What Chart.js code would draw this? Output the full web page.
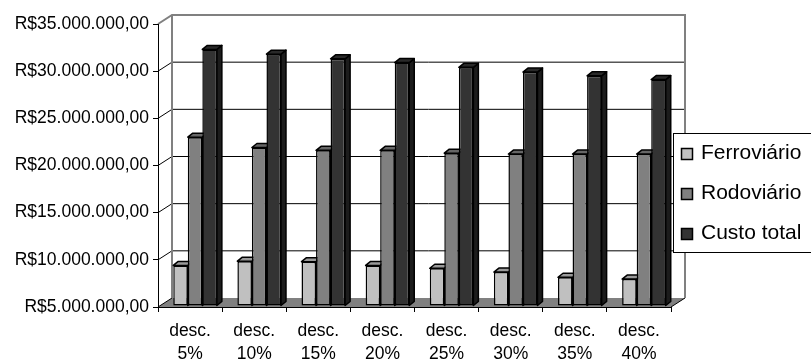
<!DOCTYPE html>
<html>
<head>
<meta charset="utf-8">
<script src="https://cdn.jsdelivr.net/npm/chart.js@4"></script>
<style>
  html, body { margin: 0; padding: 0; background: #fff; }
  canvas { display: block; }
</style>
</head>
<body>
<canvas id="chart" width="811" height="362"></canvas>
<script>
// Custo de transporte por nível de desconto (R$)
const categories = ['desc. 5%', 'desc. 10%', 'desc. 15%', 'desc. 20%', 'desc. 25%', 'desc. 30%', 'desc. 35%', 'desc. 40%'];
const ferroviario = [9300000, 9750000, 9700000, 9300000, 9000000, 8600000, 8050000, 7850000];
const rodoviario = [22900000, 21800000, 21500000, 21500000, 21200000, 21100000, 21100000, 21100000];
const custoTotal = [32200000, 31700000, 31200000, 30800000, 30300000, 29800000, 29400000, 29000000];
const valueTicks = [5000000, 10000000, 15000000, 20000000, 25000000, 30000000, 35000000];

const FONT = "'Liberation Sans', Arial, sans-serif";

// Depth of the walls (front plane to back plane) and of each column
const WALL_DX = 14, WALL_DY = -9;
const BAR_SHIFT_X = 5, BAR_SHIFT_Y = -1;
const BAR_DX = 5, BAR_DY = -4;

function brl(v) {
  const s = Math.round(v).toString().replace(/\B(?=(\d{3})+(?!\d))/g, '.');
  return 'R$' + s + ',00';
}

function shade(hex, f) {
  const n = parseInt(hex.slice(1), 16);
  const r = Math.round(((n >> 16) & 255) * f);
  const g = Math.round(((n >> 8) & 255) * f);
  const b = Math.round((n & 255) * f);
  return 'rgb(' + r + ',' + g + ',' + b + ')';
}

// Walls, floor and gridlines behind the columns
const walls = {
  id: 'walls',
  beforeDraw(chart) {
    const { ctx, chartArea: ca } = chart;
    const ys = chart.scales.y;
    ctx.save();
    ctx.fillStyle = '#fff';
    ctx.fillRect(0, 0, chart.width, chart.height);

    const yb = ys.getPixelForValue(ys.min);
    const yt = ys.getPixelForValue(ys.max);

    // floor
    ctx.fillStyle = '#808080';
    ctx.beginPath();
    ctx.moveTo(ca.left, yb);
    ctx.lineTo(ca.right, yb);
    ctx.lineTo(ca.right + WALL_DX, yb + WALL_DY);
    ctx.lineTo(ca.left + WALL_DX, yb + WALL_DY);
    ctx.closePath();
    ctx.fill();

    // gridlines across the side wall and back wall
    ctx.lineWidth = 1;
    ctx.strokeStyle = '#000';
    ys.ticks.forEach(t => {
      if (t.value === ys.max) return;
      const py = ys.getPixelForValue(t.value);
      ctx.beginPath();
      ctx.moveTo(ca.left, py);
      ctx.lineTo(ca.left + WALL_DX, py + WALL_DY);
      if (t.value !== ys.min) ctx.lineTo(ca.right + WALL_DX, py + WALL_DY);
      ctx.stroke();
    });
    // floor right edge
    ctx.beginPath();
    ctx.moveTo(ca.right, yb);
    ctx.lineTo(ca.right + WALL_DX, yb + WALL_DY);
    ctx.stroke();

    // wall outline
    ctx.strokeStyle = '#808080';
    ctx.lineWidth = 2;
    ctx.beginPath();
    ctx.moveTo(ca.left, yt);
    ctx.lineTo(ca.left + WALL_DX, yt + WALL_DY);
    ctx.lineTo(ca.right + WALL_DX, yt + WALL_DY);
    ctx.lineTo(ca.right + WALL_DX, yb + WALL_DY);
    ctx.moveTo(ca.left + WALL_DX, yt + WALL_DY);
    ctx.lineTo(ca.left + WALL_DX, yb + WALL_DY);
    ctx.stroke();
    ctx.restore();
  }
};

// Top and side faces of each column; the front faces are Chart.js bars
const columns3d = {
  id: 'columns3d',
  beforeDatasetsDraw(chart) {
    const ctx = chart.ctx;
    ctx.save();
    ctx.translate(BAR_SHIFT_X, BAR_SHIFT_Y);
    ctx.lineWidth = 1.5;
    ctx.strokeStyle = '#000';
    ctx.lineJoin = 'round';
    chart.data.datasets.forEach((ds, i) => {
      const meta = chart.getDatasetMeta(i);
      meta.data.forEach(bar => {
        const { x, y, base, width } = bar.getProps(['x', 'y', 'base', 'width'], true);
        const l = x - width / 2, r = x + width / 2;
        // side
        ctx.fillStyle = shade(ds.backgroundColor, 0.55);
        ctx.beginPath();
        ctx.moveTo(r, y);
        ctx.lineTo(r + BAR_DX, y + BAR_DY);
        ctx.lineTo(r + BAR_DX, base + BAR_DY);
        ctx.lineTo(r, base);
        ctx.closePath();
        ctx.fill();
        ctx.stroke();
        // top
        ctx.fillStyle = shade(ds.backgroundColor, 0.8);
        ctx.beginPath();
        ctx.moveTo(l, y);
        ctx.lineTo(r, y);
        ctx.lineTo(r + BAR_DX, y + BAR_DY);
        ctx.lineTo(l + BAR_DX, y + BAR_DY);
        ctx.closePath();
        ctx.fill();
        ctx.stroke();
      });
    });
  },
  afterDatasetsDraw(chart) {
    chart.ctx.restore();
  }
};

// Boxed legend at the right
const boxLegend = {
  id: 'boxLegend',
  afterDraw(chart) {
    const ctx = chart.ctx;
    const L = { x: 673.5, y: 133.5, w: 150, h: 119, row0: 153, gap: 40, box: 11, boxX: 681.5, textX: 701 };
    ctx.save();
    ctx.fillStyle = '#fff';
    ctx.fillRect(L.x, L.y, L.w, L.h);
    ctx.strokeStyle = '#000';
    ctx.lineWidth = 1;
    ctx.strokeRect(L.x, L.y, L.w, L.h);
    ctx.font = '21px ' + FONT;
    ctx.textBaseline = 'middle';
    ctx.textAlign = 'left';
    chart.data.datasets.forEach((ds, i) => {
      const cy = L.row0 + i * L.gap;
      ctx.fillStyle = ds.backgroundColor;
      ctx.fillRect(L.boxX, Math.round(cy - L.box / 2) + 0.5, L.box, L.box);
      ctx.lineWidth = 1.5;
      ctx.strokeRect(L.boxX, Math.round(cy - L.box / 2) + 0.5, L.box, L.box);
      ctx.fillStyle = '#000';
      ctx.fillText(ds.label, L.textX, cy);
    });
    ctx.restore();
  }
};

new Chart(document.getElementById('chart'), {
  type: 'bar',
  data: {
    labels: categories.map(c => c.split(' ')),
    datasets: [
      { label: 'Ferroviário', data: ferroviario, backgroundColor: '#c0c0c0' },
      { label: 'Rodoviário', data: rodoviario, backgroundColor: '#808080' },
      { label: 'Custo total', data: custoTotal, backgroundColor: '#333333' }
    ]
  },
  options: {
    responsive: false,
    devicePixelRatio: 1,
    animation: false,
    events: [],
    datasets: {
      bar: {
        base: valueTicks[0],
        borderColor: '#000',
        borderWidth: 1.5,
        borderSkipped: false,
        categoryPercentage: 0.68,
        barPercentage: 1,
        clip: false
      }
    },
    layout: { padding: { left: 0, top: 24, right: 140, bottom: 0 } },
    plugins: {
      legend: { display: false },
      tooltip: { enabled: false },
      title: { display: false }
    },
    scales: {
      x: {
        grid: { display: true, drawOnChartArea: false, drawTicks: true, tickLength: 5, color: '#000' , offset: true },
        border: { display: true, color: '#000', width: 1 },
        ticks: {
          color: '#000',
          font: { family: FONT, size: 17.5, lineHeight: 1.35 },
          padding: 7,
          maxRotation: 0,
          autoSkip: false
        },
        afterFit(s) { s.height = 55; }
      },
      y: {
        min: valueTicks[0],
        max: valueTicks[valueTicks.length - 1],
        afterBuildTicks(s) { s.ticks = valueTicks.map(v => ({ value: v })); },
        grid: { display: true, drawOnChartArea: false, drawTicks: true, tickLength: 5, color: '#000' },
        border: { display: true, color: '#000', width: 1 },
        ticks: {
          color: '#000',
          font: { family: FONT, size: 17.5 },
          padding: 4,
          callback: v => brl(v)
        },
        afterFit(s) { s.width = 158; }
      }
    }
  },
  plugins: [walls, columns3d, boxLegend]
});
</script>
</body>
</html>
